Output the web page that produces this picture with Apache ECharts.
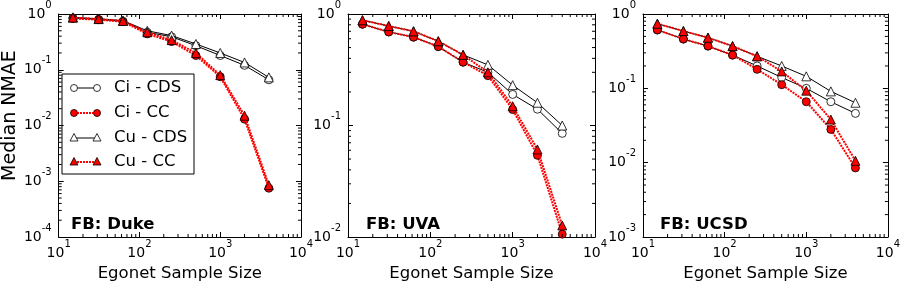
<!DOCTYPE html>
<html>
<head>
<meta charset="utf-8">
<script src="https://cdn.jsdelivr.net/npm/echarts@6/dist/echarts.min.js"></script>
<style>
html,body{margin:0;padding:0;background:#fff;}
#chart{width:903px;height:288px;}
</style>
</head>
<body>
<div id="chart"></div>
<script>
// ---- data ----
const sampleSizes = [15, 31.25, 62.5, 125, 250, 500, 1000, 2000, 4000];
const seriesNames = ['Ci - CDS', 'Ci - CC', 'Cu - CDS', 'Cu - CC'];
const panelTitles = ['FB: Duke', 'FB: UVA', 'FB: UCSD'];
const xTicks = [10, 100, 1000, 10000];
const yRangeDuke = [1e-4, 1];
const yRangeUVA = [1e-2, 1];
const yRangeUCSD = [1e-3, 1];

const dukeCiCDS = [0.85, 0.80, 0.74, 0.47, 0.39, 0.27, 0.18, 0.12, 0.066];
const dukeCiCC  = [0.83, 0.79, 0.73, 0.44, 0.32, 0.18, 0.075, 0.013, 0.00075];
const dukeCuCDS = [0.87, 0.82, 0.76, 0.50, 0.41, 0.29, 0.20, 0.135, 0.073];
const dukeCuCC  = [0.86, 0.81, 0.75, 0.47, 0.34, 0.20, 0.08, 0.015, 0.00085];

const uvaCiCDS = [0.81, 0.69, 0.62, 0.51, 0.37, 0.30, 0.19, 0.14, 0.085];
const uvaCiCC  = [0.81, 0.69, 0.62, 0.51, 0.37, 0.28, 0.139, 0.054, 0.0106];
const uvaCuCDS = [0.88, 0.78, 0.70, 0.57, 0.43, 0.35, 0.23, 0.16, 0.10];
const uvaCuCC  = [0.88, 0.78, 0.70, 0.57, 0.43, 0.30, 0.149, 0.061, 0.0127];

const ucsdCiCDS = [0.61, 0.46, 0.37, 0.28, 0.20, 0.14, 0.10, 0.066, 0.046];
const ucsdCiCC  = [0.61, 0.46, 0.37, 0.28, 0.18, 0.112, 0.066, 0.028, 0.0085];
const ucsdCuCDS = [0.74, 0.59, 0.48, 0.37, 0.27, 0.20, 0.145, 0.091, 0.064];
const ucsdCuCC  = [0.74, 0.59, 0.48, 0.37, 0.27, 0.169, 0.093, 0.038, 0.0106];

// ---- layout / style ----
const FONT = 'DejaVu Sans';
const panels = [
  { title: panelTitles[0], yRange: yRangeDuke, data: [dukeCiCDS, dukeCiCC, dukeCuCDS, dukeCuCC], left: 54, width: 247, titleLeft: 66 },
  { title: panelTitles[1], yRange: yRangeUVA, data: [uvaCiCDS, uvaCiCC, uvaCuCDS, uvaCuCC], left: 348, width: 247, titleLeft: 361 },
  { title: panelTitles[2], yRange: yRangeUCSD, data: [ucsdCiCDS, ucsdCiCC, ucsdCuCDS, ucsdCuCC], left: 643, width: 246, titleLeft: 655 }
];
const GRID_TOP = 12, GRID_H = 225;

const seriesStyles = [
  { symbol: 'circle', size: 8, fill: '#ffffff', line: '#000000', lineType: 'solid', lineWidth: 1 },
  { symbol: 'circle', size: 8, fill: '#ff0000', line: '#ff0000', lineType: [2, 1], lineWidth: 2 },
  { symbol: 'triangle', size: 9, fill: '#ffffff', line: '#000000', lineType: 'solid', lineWidth: 1 },
  { symbol: 'triangle', size: 9, fill: '#ff0000', line: '#ff0000', lineType: [2, 1], lineWidth: 2 }
];

function supLabel(v) {
  const e = Math.round(Math.log10(v));
  return '{b|10}{s|' + e + '}';
}
const richSup = {
  b: { fontSize: 14, lineHeight: 14, fontFamily: FONT, color: '#000', verticalAlign: 'bottom' },
  s: { fontSize: 10, lineHeight: 10, fontFamily: FONT, color: '#000', padding: [0, 0, 11, 0], verticalAlign: 'bottom' }
};

function minorValues(lo, hi) {
  const out = [];
  const k0 = Math.round(Math.log10(lo)), k1 = Math.round(Math.log10(hi));
  for (let k = k0; k < k1; k++) {
    for (let m = 2; m <= 9; m++) out.push(m * Math.pow(10, k));
  }
  return out;
}

const grid = [], xAxis = [], yAxis = [], series = [], title = [];
panels.forEach((p, i) => {
  grid.push({ left: p.left, top: GRID_TOP, width: p.width, height: GRID_H, containLabel: false });
  const xMin = xTicks[0], xMax = xTicks[xTicks.length - 1];
  const yMin = p.yRange[0], yMax = p.yRange[1];
  const axLine = { show: true, lineStyle: { color: '#000', width: 1 } };
  // bottom x
  xAxis.push({
    type: 'log', logBase: 10, gridIndex: i, min: xMin, max: xMax, position: 'bottom',
    axisLine: axLine, splitLine: { show: false },
    axisTick: { show: true, inside: true, length: 5, lineStyle: { color: '#000' } },
    axisLabel: { show: true, margin: 9, formatter: supLabel, rich: richSup, showMinLabel: true, showMaxLabel: true, interval: 0 },
    name: 'Egonet Sample Size', nameLocation: 'middle', nameGap: 26,
    nameTextStyle: { fontSize: 16.5, fontFamily: FONT, color: '#000' }
  });
  // top x
  xAxis.push({
    type: 'log', logBase: 10, gridIndex: i, min: xMin, max: xMax, position: 'top',
    axisLine: axLine, splitLine: { show: false },
    axisTick: { show: true, inside: true, length: 5, lineStyle: { color: '#000' } },
    axisLabel: { show: false }
  });
  // left y
  const yl = {
    type: 'log', logBase: 10, gridIndex: i, min: yMin, max: yMax, position: 'left',
    axisLine: axLine, splitLine: { show: false },
    axisTick: { show: true, inside: true, length: 5, lineStyle: { color: '#000' } },
    axisLabel: { show: true, margin: 7, formatter: supLabel, rich: richSup, showMinLabel: true, showMaxLabel: true }
  };
  if (i === 0) {
    yl.name = 'Median NMAE';
    yl.nameLocation = 'middle';
    yl.nameGap = 38;
    yl.nameTextStyle = { fontSize: 19, fontFamily: FONT, color: '#000', padding: [0, 0, 0, 20] };
  }
  yAxis.push(yl);
  // right y
  yAxis.push({
    type: 'log', logBase: 10, gridIndex: i, min: yMin, max: yMax, position: 'right',
    axisLine: axLine, splitLine: { show: false },
    axisTick: { show: true, inside: true, length: 5, lineStyle: { color: '#000' } },
    axisLabel: { show: false }
  });

  const xi = 2 * i, yi = 2 * i;
  p.data.forEach((vals, s) => {
    const st = seriesStyles[s];
    series.push({
      type: 'line', name: seriesNames[s], xAxisIndex: xi, yAxisIndex: yi,
      data: sampleSizes.map((x, j) => [x, vals[j]]),
      symbol: st.symbol, symbolSize: st.size, showAllSymbol: true,
      lineStyle: { color: st.line, type: st.lineType, width: st.lineWidth },
      itemStyle: { color: st.fill, borderColor: '#000', borderWidth: 0.8 },
      emphasis: { disabled: true }, silent: true, z: 3 + s, clip: false
    });
  });

  // minor ticks on x (bottom & top)
  series.push({
    type: 'custom', xAxisIndex: xi, yAxisIndex: yi, silent: true, clip: false, z: 10,
    data: minorValues(xMin, xMax).map(v => [v, yMin]),
    renderItem: function (params, api) {
      const v = api.value(0);
      const b = api.coord([v, yMin]);
      const t = api.coord([v, yMax]);
      return { type: 'group', children: [
        { type: 'line', shape: { x1: b[0], y1: b[1], x2: b[0], y2: b[1] - 3 }, style: { stroke: '#000', lineWidth: 1 } },
        { type: 'line', shape: { x1: t[0], y1: t[1], x2: t[0], y2: t[1] + 3 }, style: { stroke: '#000', lineWidth: 1 } }
      ] };
    }
  });
  // minor ticks on y (left & right)
  series.push({
    type: 'custom', xAxisIndex: xi, yAxisIndex: yi, silent: true, clip: false, z: 10,
    data: minorValues(yMin, yMax).map(v => [xMin, v]),
    renderItem: function (params, api) {
      const v = api.value(1);
      const l = api.coord([xMin, v]);
      const r = api.coord([xMax, v]);
      return { type: 'group', children: [
        { type: 'line', shape: { x1: l[0], y1: l[1], x2: l[0] + 3, y2: l[1] }, style: { stroke: '#000', lineWidth: 1 } },
        { type: 'line', shape: { x1: r[0], y1: r[1], x2: r[0] - 3, y2: r[1] }, style: { stroke: '#000', lineWidth: 1 } }
      ] };
    }
  });

  title.push({
    text: p.title, left: p.titleLeft, top: 211,
    textStyle: { fontSize: 16.5, fontWeight: 'bold', fontFamily: FONT, color: '#000' }
  });
});

// legend drawn as a graphic box in the first panel
const legendRows = [88, 113, 138, 162];
const legendChildren = [{
  type: 'rect', shape: { x: 62, y: 74, width: 132, height: 100 },
  style: { fill: '#fff', stroke: '#000', lineWidth: 1 }
}];
function markerEl(st, cx, cy) {
  if (st.symbol === 'circle') {
    return { type: 'circle', shape: { cx: cx, cy: cy, r: 3.5 }, style: { fill: st.fill, stroke: '#000', lineWidth: 0.8 } };
  }
  return { type: 'polygon', shape: { points: [[cx, cy - 4.5], [cx - 4, cy + 3], [cx + 4, cy + 3]] }, style: { fill: st.fill, stroke: '#000', lineWidth: 0.8 } };
}
seriesNames.forEach((nm, s) => {
  const st = seriesStyles[s];
  const cy = legendRows[s];
  legendChildren.push({
    type: 'line', shape: { x1: 74, y1: cy, x2: 97, y2: cy },
    style: { stroke: st.line, lineWidth: st.lineWidth, lineDash: st.lineType === 'solid' ? null : st.lineType }
  });
  legendChildren.push(markerEl(st, 74, cy));
  legendChildren.push(markerEl(st, 97, cy));
  legendChildren.push({
    type: 'text', x: 114, y: cy,
    style: { text: nm, fontSize: 16.5, fontFamily: FONT, fill: '#000', verticalAlign: 'middle', align: 'left' }
  });
});

const chart = echarts.init(document.getElementById('chart'), null, { renderer: 'canvas' });
chart.setOption({
  animation: false,
  backgroundColor: '#fff',
  title: title,
  grid: grid,
  xAxis: xAxis,
  yAxis: yAxis,
  series: series,
  graphic: [{ type: 'group', z: 100, children: legendChildren }]
});
</script>
</body>
</html>
